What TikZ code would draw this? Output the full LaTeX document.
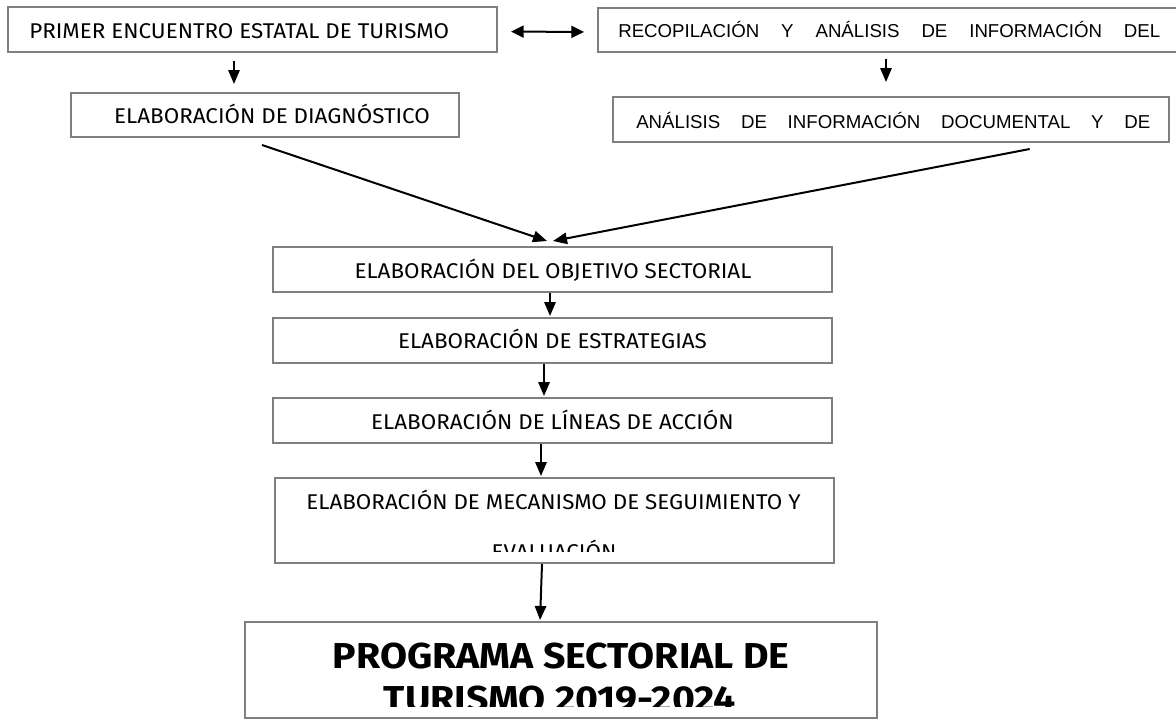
\documentclass[tikz,border=0pt]{standalone}
\usepackage{fontspec}
\newfontfamily\dinf{Fira Sans}[FakeStretch=1.05]
\newfontfamily\dinbf{Fira Sans Bold}[FakeStretch=1.09]
\newfontfamily\arialf{Liberation Sans}
\usetikzlibrary{arrows.meta}
\definecolor{boxgray}{HTML}{7F7F7F}
\begin{document}
\begin{tikzpicture}[x=0.75pt,y=-0.75pt,
  box/.style={draw=boxgray, line width=1.5pt, inner sep=0pt, fill=white},
  txt/.style={inner sep=0pt, anchor=base, font=\dinf\fontsize{16}{19}\selectfont},
  jtxt/.style={inner sep=0pt, anchor=base west, font=\arialf\fontsize{14}{16}\selectfont},
  btxt/.style={inner sep=0pt, anchor=base, font=\dinbf\fontsize{27}{32}\selectfont},
  arr/.style={line width=1.5pt, -{Triangle[length=10.5pt,width=8.5pt]}},
  dbl/.style={line width=1.5pt, {Triangle[length=9.5pt,width=9pt]}-{Triangle[length=9.5pt,width=9pt]}}]
\useasboundingbox (0,0) rectangle (1176,719);
\clip (0,0) rectangle (1176,719);
\fill[white] (0,0) rectangle (1176,719);
% boxes
\node[box, minimum width=366.75pt, minimum height=33.75pt] (b1) at (252.5,29.5) {};
\node[box, minimum width=439.5pt, minimum height=33pt] (b2) at (891,30) {};
\node[box, minimum width=291pt, minimum height=33pt] (b3) at (265,115) {};
\node[box, minimum width=417pt, minimum height=33.75pt] (b4) at (891,119.5) {};
\node[box, minimum width=419.25pt, minimum height=33.75pt] (b5) at (552.5,269.5) {};
\node[box, minimum width=419.25pt, minimum height=33.75pt] (b6) at (552.5,340.5) {};
\node[box, minimum width=419.25pt, minimum height=33.75pt] (b7) at (552.5,420.5) {};
\node[box, minimum width=419.25pt, minimum height=63.75pt] (b8) at (554.5,520.5) {};
\node[box, minimum width=474pt, minimum height=72pt] (b9) at (561,670) {};
% texts
\node[txt, anchor=base west] (t1) at (29,38.5) {PRIMER ENCUENTRO ESTATAL DE TURISMO};
\node[jtxt] (t2) at (618,37.5) {\makebox[406.5pt][s]{RECOPILACIÓN Y ANÁLISIS DE INFORMACIÓN DEL}};
\node[txt] (t3) at (272,123.5) {ELABORACIÓN DE DIAGNÓSTICO};
\node[jtxt] (t4) at (636,128) {\makebox[385.5pt][s]{ANÁLISIS DE INFORMACIÓN DOCUMENTAL Y DE}};
\node[txt] (t5) at (553,278.5) {ELABORACIÓN DEL OBJETIVO SECTORIAL};
\node[txt] (t6) at (552.5,348.5) {ELABORACIÓN DE ESTRATEGIAS};
\node[txt] (t7) at (552.5,429) {ELABORACIÓN DE LÍNEAS DE ACCIÓN};
\begin{scope}
  \clip (276,479) rectangle (833,551.7);
  \node[txt] (t8a) at (553.5,509.5) {ELABORACIÓN DE MECANISMO DE SEGUIMIENTO Y};
  \node[txt] (t8b) at (554,559) {EVALUACIÓN};
\end{scope}
\begin{scope}
  \clip (246,623) rectangle (876,706.7);
  \node[btxt] (t9a) at (561,668) {PROGRAMA SECTORIAL DE};
  \node[btxt] (t9b) at (560,711.7) {TURISMO 2019-2024};
\end{scope}
% connectors
\draw[dbl, shorten <=9.75pt, shorten >=9.75pt] ([yshift=-1.5pt]b1.east) -- ([yshift=-1.5pt]b2.west);
\draw[arr, shorten <=6pt, shorten >=6pt] ([xshift=-13.875pt]b1.south) -- ([xshift=-23.25pt]b3.north);
\draw[arr, shorten <=4.5pt, shorten >=10.5pt] ([xshift=-3.75pt]b2.south) -- ([xshift=-3.75pt]b4.north);
\draw[arr] ([xshift=-2.25pt,yshift=-5.25pt]b3.south) -- ([xshift=-4.125pt,yshift=3.75pt]b5.north);
\draw[arr] ([xshift=104pt,yshift=-4.5pt]b4.south) -- ([xshift=0.375pt,yshift=3.75pt]b5.north);
\draw[arr, shorten >=0.75pt] ([xshift=-1.875pt]b5.south) -- ([xshift=-1.875pt]b6.north);
\draw[arr, shorten >=0.75pt] ([xshift=-6.375pt]b6.south) -- ([xshift=-6.375pt]b7.north);
\draw[arr, shorten >=0.75pt] ([xshift=-8.625pt]b7.south) -- ([xshift=-10.125pt]b8.north);
\draw[arr, shorten >=0.75pt] ([xshift=-9.375pt]b8.south) -- ([xshift=-15.75pt]b9.north);
\end{tikzpicture}
\end{document}
